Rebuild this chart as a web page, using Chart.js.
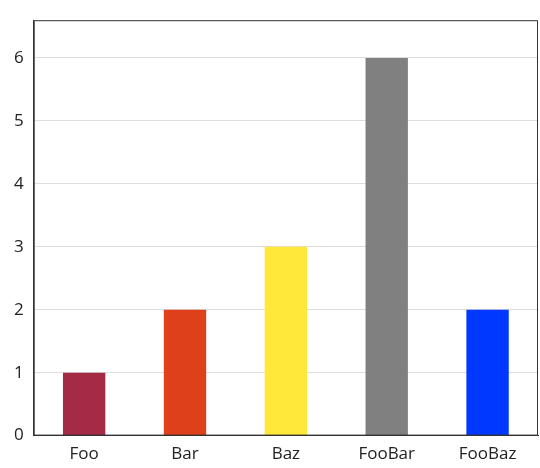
<!DOCTYPE html>
<html><head>
<script src="https://cdn.jsdelivr.net/npm/chart.js@4"></script>
<style>body{margin:0;background:#fff}#w{width:540px;height:468px}</style>
</head><body><div id="w"><canvas id="c"></canvas></div>
<script>
const categories = ["Foo","Bar","Baz","FooBar","FooBaz"];
const values = [1,2,3,6,2];
const colors = ["#A52A45","#DF401C","#FFE83A","#808080","#0038FF"];
const yTicks = [0,1,2,3,4,5,6];
const borderPlugin = {id:'b',afterDraw(ch){const a=ch.chartArea,x=ch.ctx;x.save();x.strokeStyle='#333';x.lineWidth=1;x.strokeRect(a.left+0.5,a.top+0.5,a.right-a.left-1,a.bottom-a.top-1);x.restore();}};
new Chart(document.getElementById('c'),{
  type:'bar',
  data:{labels:categories,datasets:[{data:values,backgroundColor:colors,barPercentage:0.42,categoryPercentage:1}]},
  options:{responsive:true,maintainAspectRatio:false,animation:false,
    layout:{padding:{top:-6,right:2,left:4,bottom:4}},
    plugins:{legend:{display:false},tooltip:{enabled:false}},
    scales:{
      x:{grid:{display:false},border:{color:'#333'},ticks:{color:'#222',font:{family:'Open Sans',size:17},padding:0}},
      y:{min:0,max:6.6,afterBuildTicks(s){s.ticks=yTicks.map(v=>({value:v}));},
         grid:{color:'#ddd',drawTicks:false},border:{color:'#333'},
         ticks:{color:'#222',font:{family:'Open Sans',size:17},padding:10}}
    }},
  plugins:[borderPlugin]
});
</script></body></html>
